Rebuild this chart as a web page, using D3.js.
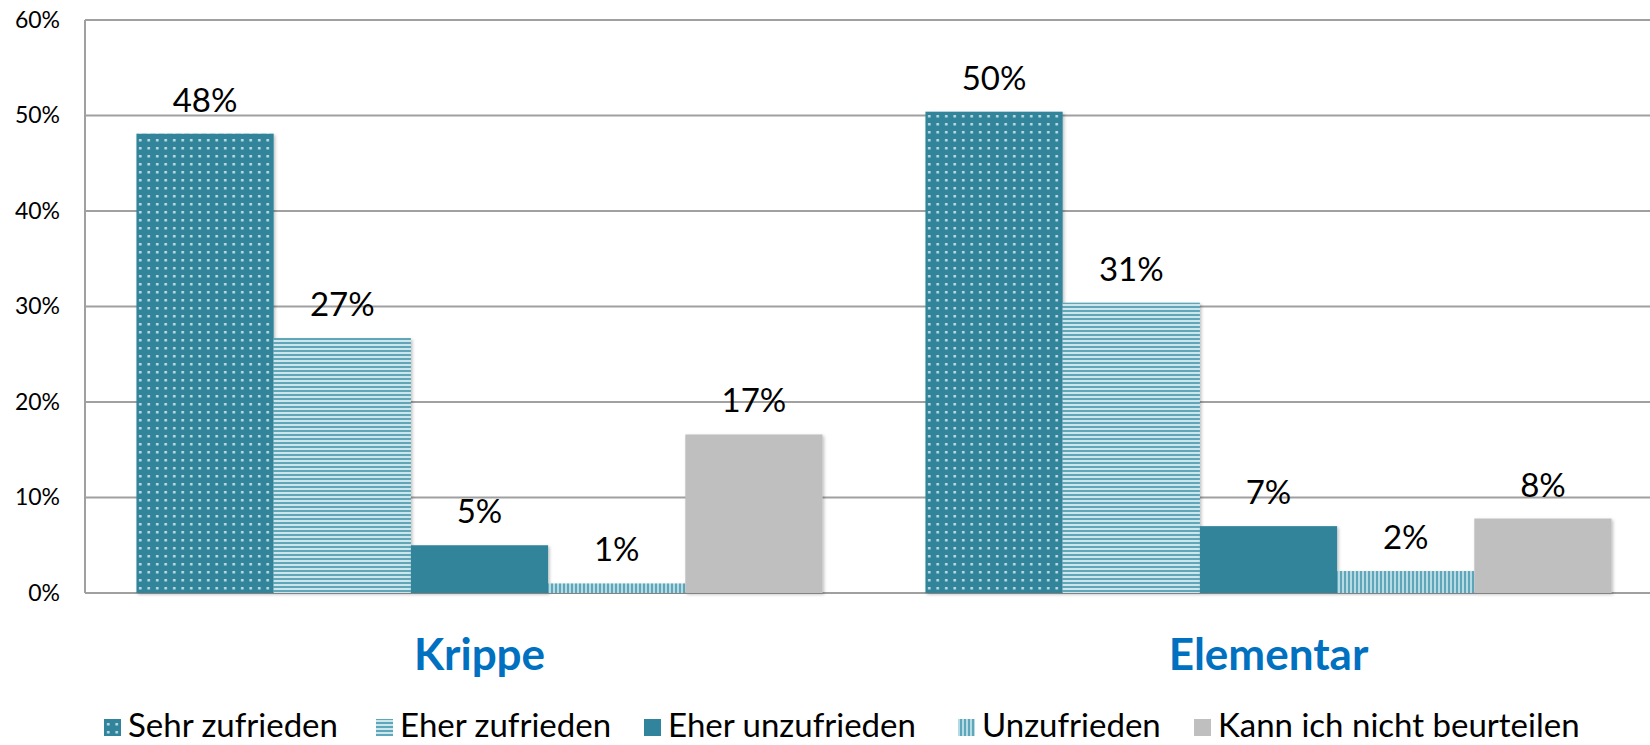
<!DOCTYPE html>
<html>
<head>
<meta charset="utf-8">
<script src="https://cdn.jsdelivr.net/npm/d3@7"></script>
<style>
  body { margin: 0; background: #fff; }
  text { font-family: Lato, "Open Sans", sans-serif; }
</style>
</head>
<body>
<div id="d3"></div>
<script>
// ------------
// DATA
// ------------
const categories = ["Krippe", "Elementar"];
const seriesNames = ["Sehr zufrieden", "Eher zufrieden", "Eher unzufrieden", "Unzufrieden", "Kann ich nicht beurteilen"];
const krippeValues = [48.1, 26.7, 5.0, 1.0, 16.6];
const elementarValues = [50.4, 30.4, 7.0, 2.3, 7.8];
const krippeLabels = ["48%", "27%", "5%", "1%", "17%"];
const elementarLabels = ["50%", "31%", "7%", "2%", "8%"];
const yTicks = [0, 10, 20, 30, 40, 50, 60];

const chartWidth = 1650;
const chartHeight = 745;
const margin = { left: 85, top: 20, right: -13, bottom: 152 };

const teal = "#31849b";

const svg = d3
  .select("#d3")
  .append("svg")
  .attr("width", chartWidth)
  .attr("height", chartHeight);

const defs = svg.append("defs");

// dotted pattern
const dots = defs.append("pattern")
  .attr("id", "dots")
  .attr("patternUnits", "userSpaceOnUse")
  .attr("width", 8.5)
  .attr("height", 8);
dots.append("rect").attr("width", 8.5).attr("height", 8).attr("fill", teal);
dots.append("rect").attr("x", 3).attr("y", 3).attr("width", 2.5).attr("height", 2.5).attr("fill", "#c2dfe7");

// horizontal stripes
const hstripes = defs.append("pattern")
  .attr("id", "hstripes")
  .attr("patternUnits", "userSpaceOnUse")
  .attr("width", 4)
  .attr("height", 4);
hstripes.append("rect").attr("width", 4).attr("height", 4).attr("fill", "#cde6ec");
hstripes.append("rect").attr("y", 2).attr("width", 4).attr("height", 2).attr("fill", "#5ea6b9");

// vertical stripes
const vstripes = defs.append("pattern")
  .attr("id", "vstripes")
  .attr("patternUnits", "userSpaceOnUse")
  .attr("width", 4)
  .attr("height", 4);
vstripes.append("rect").attr("width", 4).attr("height", 4).attr("fill", "#b7dbe4");
vstripes.append("rect").attr("x", 2).attr("width", 2).attr("height", 4).attr("fill", "#5ea6b9");

// subtle shadow
const shadow = defs.append("filter").attr("id", "shadow")
  .attr("x", "-5%").attr("y", "-5%").attr("width", "115%").attr("height", "115%");
shadow.append("feDropShadow")
  .attr("dx", 1.5).attr("dy", 1.5).attr("stdDeviation", 1.5)
  .attr("flood-color", "#000").attr("flood-opacity", 0.25);

const fills = ["url(#dots)", "url(#hstripes)", teal, "url(#vstripes)", "#bfbfbf"];

const x0 = d3.scaleBand()
  .domain(categories)
  .range([margin.left, chartWidth - margin.right])
  .paddingInner(0)
  .paddingOuter(0);

const x1 = d3.scaleBand()
  .domain(seriesNames)
  .range([0, x0.bandwidth()])
  .paddingOuter(0.375)
  .paddingInner(0);

const y = d3.scaleLinear()
  .domain([0, 60])
  .range([chartHeight - margin.bottom, margin.top]);

// ------------
// GRIDLINES
// ------------
svg.append("g")
  .selectAll("line")
  .data(yTicks)
  .enter()
  .append("line")
  .attr("x1", margin.left)
  .attr("x2", chartWidth)
  .attr("y1", (d) => y(d))
  .attr("y2", (d) => y(d))
  .style("stroke", "#a0a0a0")
  .style("stroke-width", 2);

svg.append("line")
  .attr("x1", margin.left)
  .attr("x2", margin.left)
  .attr("y1", y(60))
  .attr("y2", y(0))
  .style("stroke", "#a0a0a0")
  .style("stroke-width", 2);

// ------------
// Y AXIS LABELS
// ------------
const yAxis = d3.axisLeft(y)
  .tickValues(yTicks)
  .tickFormat((d) => d + "%")
  .tickSize(0)
  .tickPadding(25);

svg.append("g")
  .attr("transform", `translate(${margin.left},0)`)
  .call(yAxis)
  .call((g) => g.select(".domain").remove())
  .selectAll("text")
  .attr("font-family", "Lato, sans-serif")
  .attr("font-size", 23)
  .attr("fill", "#000");

// ------------
// BARS
// ------------
const rows = categories.map((c, i) => ({
  category: c,
  values: i === 0 ? krippeValues : elementarValues,
  labels: i === 0 ? krippeLabels : elementarLabels,
}));

const groups = svg.selectAll(".group")
  .data(rows)
  .enter()
  .append("g")
  .attr("class", "group")
  .attr("transform", (d) => `translate(${x0(d.category)},0)`);

groups.selectAll("rect")
  .data((d) => d.values.map((v, i) => ({ name: seriesNames[i], value: v, index: i })))
  .enter()
  .append("rect")
  .attr("x", (d) => x1(d.name))
  .attr("y", (d) => y(d.value))
  .attr("width", x1.bandwidth())
  .attr("height", (d) => y(0) - y(d.value))
  .attr("fill", (d) => fills[d.index])
  .attr("filter", "url(#shadow)");

groups.selectAll(".label")
  .data((d) => d.values.map((v, i) => ({ name: seriesNames[i], value: v, label: d.labels[i] })))
  .enter()
  .append("text")
  .attr("class", "label")
  .attr("x", (d) => x1(d.name) + x1.bandwidth() / 2)
  .attr("y", (d) => y(d.value) - 22)
  .attr("text-anchor", "middle")
  .attr("font-size", 33)
  .attr("fill", "#000")
  .text((d) => d.label);

// ------------
// CATEGORY LABELS
// ------------
svg.selectAll(".cat")
  .data(categories)
  .enter()
  .append("text")
  .attr("class", "cat")
  .attr("x", (d) => x0(d) + x1(seriesNames[2]) + x1.bandwidth() / 2)
  .attr("y", 670)
  .attr("text-anchor", "middle")
  .attr("font-size", 44)
  .attr("font-weight", "bold")
  .attr("fill", "#0070c0")
  .text((d) => d);

// ------------
// LEGEND
// ------------
const legendX = [104, 376, 644, 958, 1194];
const legend = svg.append("g");
const items = legend.selectAll("g")
  .data(seriesNames)
  .enter()
  .append("g")
  .attr("transform", (d, i) => `translate(${legendX[i]},0)`);

items.append("rect")
  .attr("x", 0)
  .attr("y", 719)
  .attr("width", 17)
  .attr("height", 17)
  .attr("fill", (d, i) => fills[i]);

items.append("text")
  .attr("x", 24)
  .attr("y", 737)
  .attr("font-size", 33)
  .attr("fill", "#000")
  .text((d) => d);
</script>
</body>
</html>
